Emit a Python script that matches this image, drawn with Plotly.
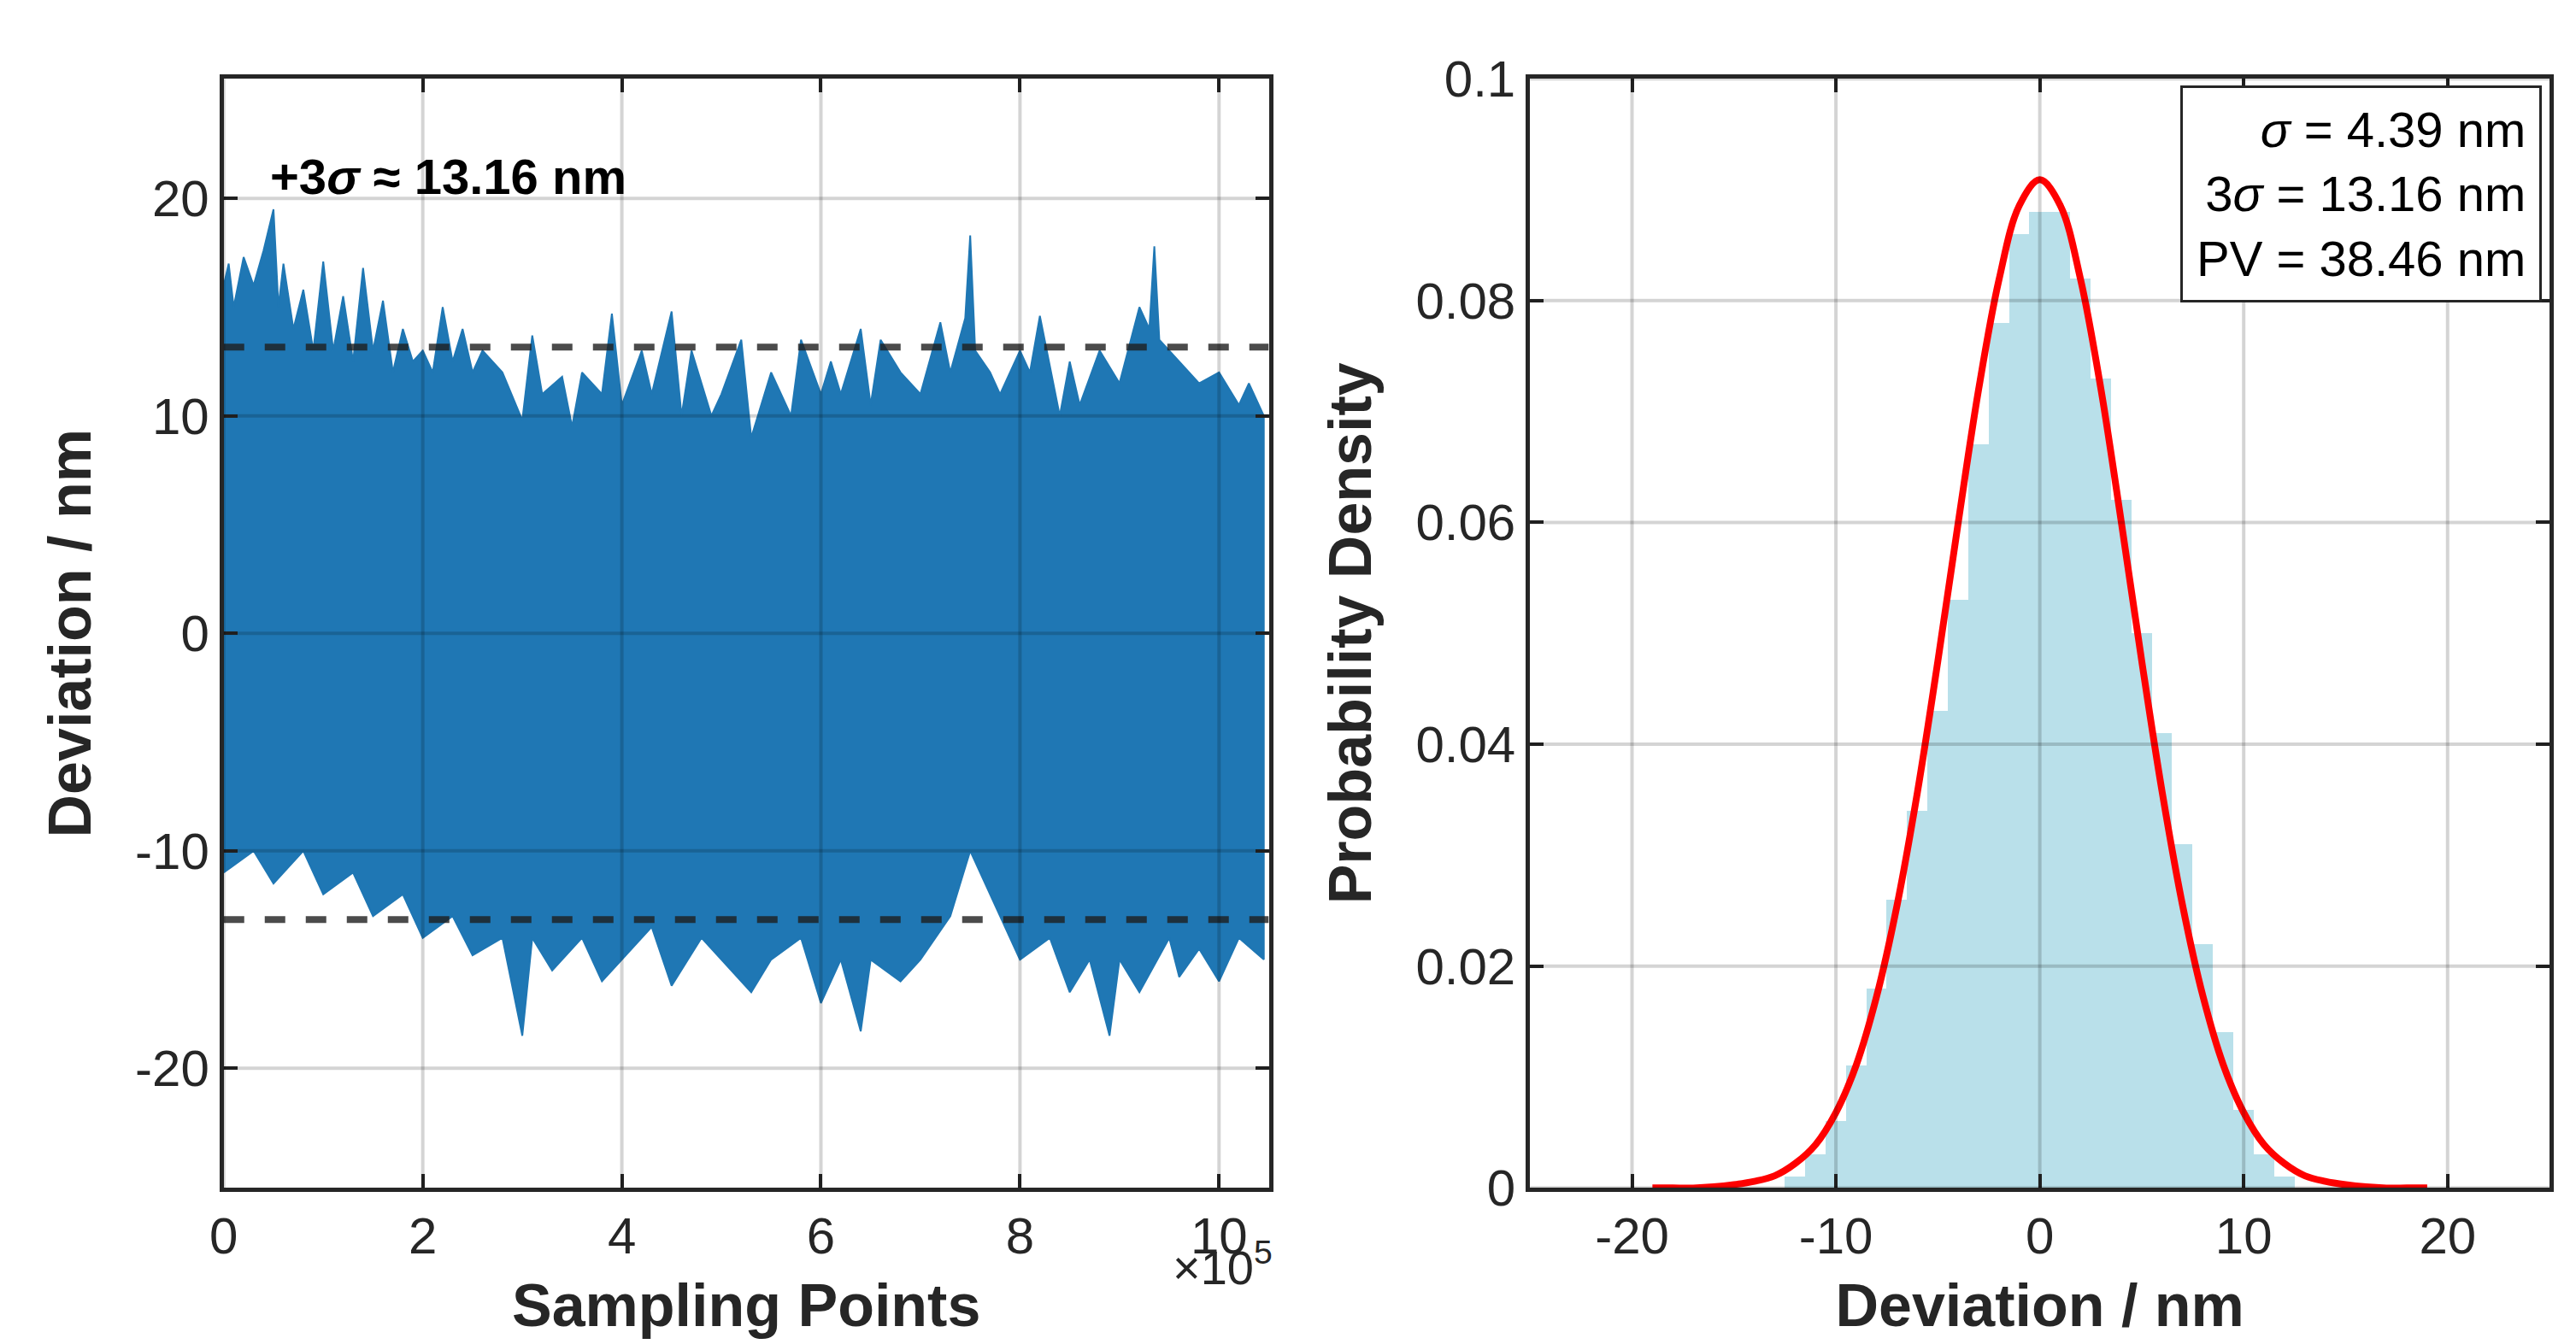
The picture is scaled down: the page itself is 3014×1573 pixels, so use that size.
import plotly.graph_objects as go

# Left panel: signal envelope (x in units of 1e5 samples)
env_x_up = [0, 0.05, 0.1, 0.2, 0.3, 0.4, 0.5, 0.55, 0.6, 0.7, 0.8, 0.9, 1.0, 1.1, 1.2, 1.3, 1.4, 1.5, 1.6, 1.7,
            1.8, 1.9, 2.0, 2.1, 2.2, 2.3, 2.4, 2.5, 2.6, 2.8, 3.0, 3.1, 3.2, 3.4, 3.5, 3.6, 3.8, 3.9, 4.0, 4.2,
            4.3, 4.5, 4.6, 4.7, 4.9, 5.0, 5.2, 5.3, 5.5, 5.7, 5.8, 6.0, 6.1, 6.2, 6.4, 6.5, 6.6, 6.8, 7.0, 7.2,
            7.3, 7.45, 7.5, 7.55, 7.7, 7.8, 8.0, 8.1, 8.2, 8.4, 8.5, 8.6, 8.8, 9.0, 9.2, 9.3, 9.35, 9.4, 9.6,
            9.8, 10.0, 10.2, 10.3, 10.45]
env_up = [16, 17, 15, 17.3, 16, 17.6, 19.5, 15, 17, 14, 15.8, 13, 17.1, 13, 15.5, 12.5, 16.8, 13, 15.3, 12,
          14, 12.5, 13, 12, 15, 12.5, 14, 12, 13, 12, 9.8, 13.7, 11, 11.8, 9.5, 12, 11, 14.7, 10.5, 13,
          11, 14.8, 10, 13, 10, 11, 13.5, 9, 12, 10, 13.5, 11, 12.5, 11, 14, 10.5, 13.5, 12, 11, 14.3,
          12, 14.5, 18.3, 13, 12, 11, 13, 12, 14.6, 10, 12.5, 10.5, 13, 11.5, 15, 14, 17.8, 13.5, 12.5,
          11.5, 12, 10.5, 11.5, 10]
env_x_lo = [0, 0.3, 0.5, 0.8, 1.0, 1.3, 1.5, 1.8, 2.0, 2.3, 2.5, 2.8, 3.0, 3.1, 3.3, 3.6, 3.8, 4.0, 4.3, 4.5,
            4.8, 5.0, 5.3, 5.5, 5.8, 6.0, 6.2, 6.4, 6.5, 6.8, 7.0, 7.3, 7.5, 7.8, 8.0, 8.3, 8.5, 8.7, 8.9, 9.0,
            9.2, 9.5, 9.6, 9.8, 10.0, 10.2, 10.45]
env_lo = [-11, -10, -11.5, -10, -12, -11, -13, -12, -14, -13, -14.8, -14, -18.5, -14, -15.5, -14, -16, -15, -13.5, -16.2,
          -14, -15, -16.5, -15, -14, -17, -15, -18.3, -15, -16, -15, -13, -10, -13, -15, -14, -16.5, -15, -18.5, -15,
          -16.5, -14, -15.8, -14.5, -16, -14, -15]
sigma3 = 13.16

# Right panel: histogram (bin centers in nm, probability density)
bin_centers = list(range(-12, 13))
bin_density = [0.001, 0.003, 0.006, 0.011, 0.018, 0.026, 0.034, 0.043, 0.053, 0.067, 0.078, 0.086, 0.088,
               0.088, 0.082, 0.073, 0.062, 0.050, 0.041, 0.031, 0.022, 0.014, 0.007, 0.003, 0.001]
fit_x = list(range(-19, 20))
fit_y = [0, 0, 0, 0.0001, 0.0003, 0.0006, 0.0011, 0.0022, 0.0039, 0.0068, 0.0111, 0.0173, 0.0255, 0.0357,
         0.0475, 0.0600, 0.0720, 0.0819, 0.0886, 0.0909, 0.0886, 0.0819, 0.0720, 0.0600, 0.0475, 0.0357, 0.0255,
         0.0173, 0.0111, 0.0068, 0.0039, 0.0022, 0.0011, 0.0006, 0.0003, 0.0001, 0, 0, 0]

left_x_ticks = [0, 2, 4, 6, 8, 10]
left_y_ticks = [-20, -10, 0, 10, 20]
right_x_ticks = [-20, -10, 0, 10, 20]
right_y_ticks = [0, 0.02, 0.04, 0.06, 0.08, 0.1]

FONT = "Liberation Sans"
blue = "#1f77b4"
GRID = "rgba(0,0,0,0.17)"

fig = go.Figure()
fig.add_trace(go.Scatter(x=env_x_up + env_x_lo[::-1], y=env_up + env_lo[::-1], fill="toself",
                         fillcolor=blue, mode="lines", line=dict(color=blue, width=2),
                         xaxis="x", yaxis="y", showlegend=False))
for v in (sigma3, -sigma3):
    fig.add_trace(go.Scatter(x=[0, 10.5], y=[v, v], mode="lines",
                             line=dict(color="rgba(30,30,30,0.8)", width=8, dash="dash"),
                             xaxis="x", yaxis="y", showlegend=False))

fig.add_trace(go.Bar(x=bin_centers, y=bin_density, width=1, marker=dict(color="#b9e0ea", line=dict(width=0)),
                     xaxis="x2", yaxis="y2", showlegend=False))
fig.add_trace(go.Scatter(x=fit_x, y=fit_y, mode="lines", line=dict(color="red", width=8, shape="spline"),
                         xaxis="x2", yaxis="y2", showlegend=False))

# grid drawn over the data, as in the original
for xr, yr, xt, yt in (("x", "y", left_x_ticks, left_y_ticks), ("x2", "y2", right_x_ticks, right_y_ticks)):
    for t in xt:
        fig.add_shape(type="line", xref=xr, yref=yr + " domain", x0=t, x1=t, y0=0, y1=1,
                      line=dict(color=GRID, width=4), layer="above")
    for t in yt:
        fig.add_shape(type="line", xref=xr + " domain", yref=yr, x0=0, x1=1, y0=t, y1=t,
                      line=dict(color=GRID, width=4), layer="above")

ax = dict(showline=True, linecolor="#262626", linewidth=5, mirror="ticks", ticks="inside", ticklen=16,
          tickwidth=4, tickcolor="#262626", showgrid=False, zeroline=False, layer="above traces",
          tickfont=dict(family=FONT, size=60, color="#262626"))
tfont = dict(family=FONT, size=70, color="#262626")

def lab(vals):
    return [str(v).replace("-", "-") for v in vals]

fig.update_layout(
    width=3014, height=1573, plot_bgcolor="white", paper_bgcolor="white",
    margin=dict(l=0, r=0, t=0, b=0), bargap=0,
    xaxis=dict(ax, domain=[0.079, 0.487], range=[0, 10.5], tickvals=left_x_ticks, ticktext=lab(left_x_ticks),
               title=dict(text="<b>Sampling Points</b>", font=tfont, standoff=25), anchor="y"),
    yaxis=dict(ax, domain=[0.104, 0.966], range=[-25.5, 25.5], tickvals=left_y_ticks, ticktext=lab(left_y_ticks),
               title=dict(text="<b>Deviation / nm</b>", font=tfont, standoff=30), anchor="x"),
    xaxis2=dict(ax, domain=[0.589, 0.987], range=[-25, 25], tickvals=right_x_ticks, ticktext=lab(right_x_ticks),
                title=dict(text="<b>Deviation / nm</b>", font=tfont, standoff=25), anchor="y2"),
    yaxis2=dict(ax, domain=[0.104, 0.966], range=[0, 0.1], tickvals=right_y_ticks,
                ticktext=["0", "0.02", "0.04", "0.06", "0.08", "0.1"],
                title=dict(text="<b>Probability Density</b>", font=tfont, standoff=30), anchor="x2"),
)

fig.add_annotation(x=0.45, y=21, xref="x", yref="y", xanchor="left", showarrow=False,
                   text="<b>+3<i>σ</i> ≈ 13.16 nm</b>", font=dict(family=FONT, size=58, color="black"))
fig.add_annotation(x=0.489, y=0.02, xref="paper", yref="paper", xanchor="right", yanchor="bottom", showarrow=False,
                   text="×10<sup>5</sup>", font=dict(family=FONT, size=56, color="#262626"))
fig.add_annotation(x=0.984, y=0.961, xref="paper", yref="paper", xanchor="right", yanchor="top", showarrow=False,
                   align="right", bgcolor="white", bordercolor="#262626", borderwidth=3, borderpad=16,
                   text="<i>σ</i> = 4.39 nm<br>3<i>σ</i> = 13.16 nm<br>PV = 38.46 nm",
                   font=dict(family=FONT, size=58, color="black"))

fig.write_html("out.html")
